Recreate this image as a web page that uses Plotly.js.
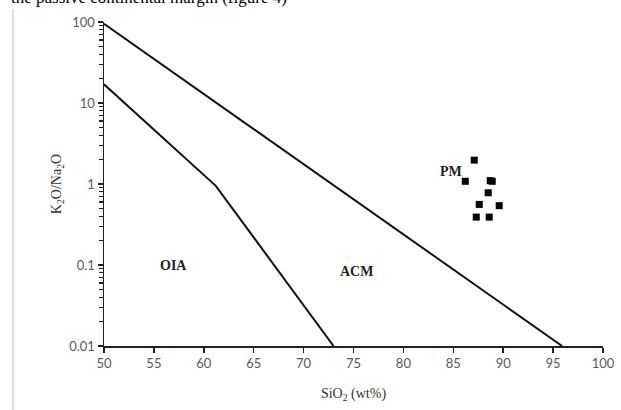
<!DOCTYPE html>
<html><head><meta charset="utf-8">
<script src="https://cdn.plot.ly/plotly-3.0.1.min.js"></script>
<style>html,body{margin:0;padding:0;background:#fff}#chart{width:621px;height:410px}</style>
</head><body><div id="chart"></div>
<script>
// Boundary lines (SiO2 wt%, K2O/Na2O)
const upperLineX = [50, 95.9];
const upperLineY = [95, 0.01];
const lowerLineX = [50, 61.2, 73];
const lowerLineY = [17, 0.95, 0.01];
// PM samples
const pmX = [87.1, 86.2, 88.7, 88.5, 87.6, 89.6, 87.3, 88.6, 88.9];
const pmY = [1.97, 1.08, 1.10, 0.78, 0.56, 0.54, 0.39, 0.39, 1.08];
// Field labels
const fieldNames = ['PM', 'OIA', 'ACM'];
const fieldX = [84.8, 57.0, 75.3];
const fieldY = [1.41, 0.10, 0.083];
const xTicks = [50, 55, 60, 65, 70, 75, 80, 85, 90, 95, 100];
const yTicks = [0.01, 0.1, 1, 10, 100];
const yTickText = ['0.01', '0.1', '1', '10', '100'];

const lineStyle = {color: '#111', width: 2};
const traces = [
  {x: upperLineX, y: upperLineY, mode: 'lines', line: lineStyle, hoverinfo: 'skip'},
  {x: lowerLineX, y: lowerLineY, mode: 'lines', line: lineStyle, hoverinfo: 'skip'},
  {x: pmX, y: pmY, mode: 'markers', marker: {symbol: 'square', size: 7, color: '#000'}}
];
const annotations = fieldNames.map((t, i) => ({
  x: fieldX[i], y: Math.log10(fieldY[i]), xref: 'x', yref: 'y', text: '<b>' + t + '</b>',
  showarrow: false, font: {family: 'Liberation Serif, Times New Roman, serif', size: 14, color: '#222'}
}));
annotations.push({
  x: -0.19, y: 1.0755, xref: 'paper', yref: 'paper', xanchor: 'left', yanchor: 'middle',
  text: 'the passive continental margin (figure 4)', showarrow: false,
  font: {family: 'Liberation Serif, Times New Roman, serif', size: 17, color: '#000'}
});
const tickFont = {family: 'Lato, Open Sans, sans-serif', size: 13, color: '#595959'};
const layout = {
  width: 621, height: 410,
  margin: {l: 104, r: 18, t: 21.5, b: 64},
  paper_bgcolor: '#fff', plot_bgcolor: '#fff',
  showlegend: false,
  xaxis: {
    range: [50, 100], tickvals: xTicks, ticks: 'outside', ticklen: 5, tickwidth: 1.5, tickcolor: '#222',
    showline: true, linecolor: '#222', linewidth: 1.5, showgrid: false, zeroline: false,
    tickfont: tickFont,
    title: {text: 'SiO<sub>2</sub> (wt%)', standoff: 18, font: {family: 'Liberation Serif, Times New Roman, serif', size: 14, color: '#333'}}
  },
  yaxis: {
    type: 'log', range: [-2, 2], tickvals: yTicks, ticktext: yTickText,
    ticks: 'outside', ticklen: 5, tickwidth: 1.5, tickcolor: '#222',
    minor: {ticks: 'outside', ticklen: 4, tickwidth: 1.2, tickcolor: '#222', dtick: 'D1', showgrid: false},
    showline: true, linecolor: '#222', linewidth: 1.5, showgrid: false, zeroline: false,
    tickfont: tickFont,
    title: {text: 'K<sub>2</sub>O/Na<sub>2</sub>O', standoff: 4, font: {family: 'Liberation Serif, Times New Roman, serif', size: 14, color: '#333'}}
  },
  annotations: annotations,
  shapes: [{type: 'line', xref: 'paper', yref: 'paper', x0: -0.182, x1: -0.182, y0: 1.04, y1: -0.2,
    line: {color: '#dcdcdc', width: 2}}]
};
Plotly.newPlot('chart', traces, layout, {staticPlot: true, displayModeBar: false});
</script></body></html>
